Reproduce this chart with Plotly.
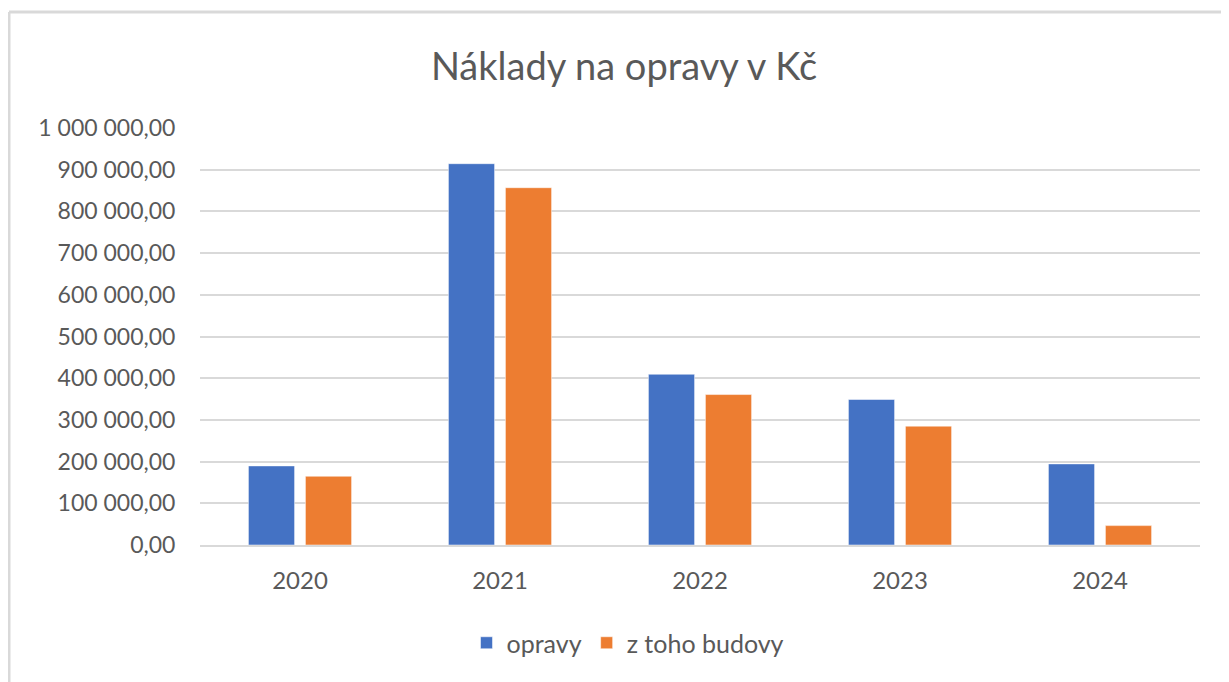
import plotly.graph_objects as go

years = ["2020", "2021", "2022", "2023", "2024"]
opravy = [189700, 914400, 409500, 349000, 194500]
budovy = [164900, 856800, 360800, 285000, 46500]

tick_vals = [0, 100000, 200000, 300000, 400000, 500000, 600000, 700000, 800000, 900000, 1000000]
tick_text = ["0,00", "100 000,00", "200 000,00", "300 000,00", "400 000,00", "500 000,00",
             "600 000,00", "700 000,00", "800 000,00", "900 000,00", "1 000 000,00"]

FONT = "Lato"
GRAY = "#595959"

# page body has an 8px margin; figure coordinates are shifted accordingly
OFF = 8
W, H = 1229 - OFF, 682 - OFF
PL, PR, PT, PB = 200 - OFF, 1200 - OFF, 128 - OFF, 545 - OFF  # plot area in figure px
PW, PH = PR - PL, PB - PT


def px_x(x):
    return (x - OFF - PL) / PW


def px_y(y):
    return (PB - (y - OFF)) / PH


fig = go.Figure()
fig.add_trace(go.Bar(name="opravy", x=years, y=opravy,
                     marker=dict(color="#4472C4", line=dict(color="rgba(255,255,255,0.5)", width=1))))
fig.add_trace(go.Bar(name="z toho budovy", x=years, y=budovy,
                     marker=dict(color="#ED7D31", line=dict(color="rgba(255,255,255,0.5)", width=1))))

fig.update_layout(
    width=W, height=H,
    margin=dict(l=PL, r=W - PR, t=PT, b=H - PB),
    paper_bgcolor="white", plot_bgcolor="white",
    barmode="group", bargap=0.43, bargroupgap=0.19,
    title=dict(text="Náklady na opravy v Kč", x=px_x(624), xref="paper", xanchor="center",
               y=1 - (67 - OFF) / H, yref="container", yanchor="middle",
               font=dict(family=FONT, size=38, color=GRAY)),
    font=dict(family=FONT, color=GRAY, size=23),
    showlegend=True,
    legend=dict(orientation="h", x=px_x(628), xanchor="center", y=px_y(643), yanchor="middle",
                font=dict(family=FONT, size=25, color=GRAY), itemwidth=30, traceorder="normal"),
)
fig.update_yaxes(range=[0, 1000000], tickvals=tick_vals, ticktext=tick_text,
                 showgrid=True, gridcolor="#D9D9D9", gridwidth=2, zeroline=False,
                 showline=False, ticks="outside", ticklen=19, tickcolor="rgba(0,0,0,0)",
                 tickfont=dict(family=FONT, size=23, color=GRAY), fixedrange=True)
fig.update_xaxes(showline=True, linecolor="#D9D9D9", linewidth=2, showgrid=False,
                 ticks="outside", ticklen=13, tickcolor="rgba(0,0,0,0)",
                 tickfont=dict(family=FONT, size=24, color=GRAY), fixedrange=True)

# chart area border
fig.add_shape(type="line", xref="paper", yref="paper", x0=px_x(9), x1=1.1,
              y0=px_y(12), y1=px_y(12), line=dict(color="#D9D9D9", width=3))
fig.add_shape(type="line", xref="paper", yref="paper", x0=px_x(9), x1=px_x(9),
              y0=px_y(12), y1=-0.5, line=dict(color="#D9D9D9", width=3))

fig.write_html("out.html")
